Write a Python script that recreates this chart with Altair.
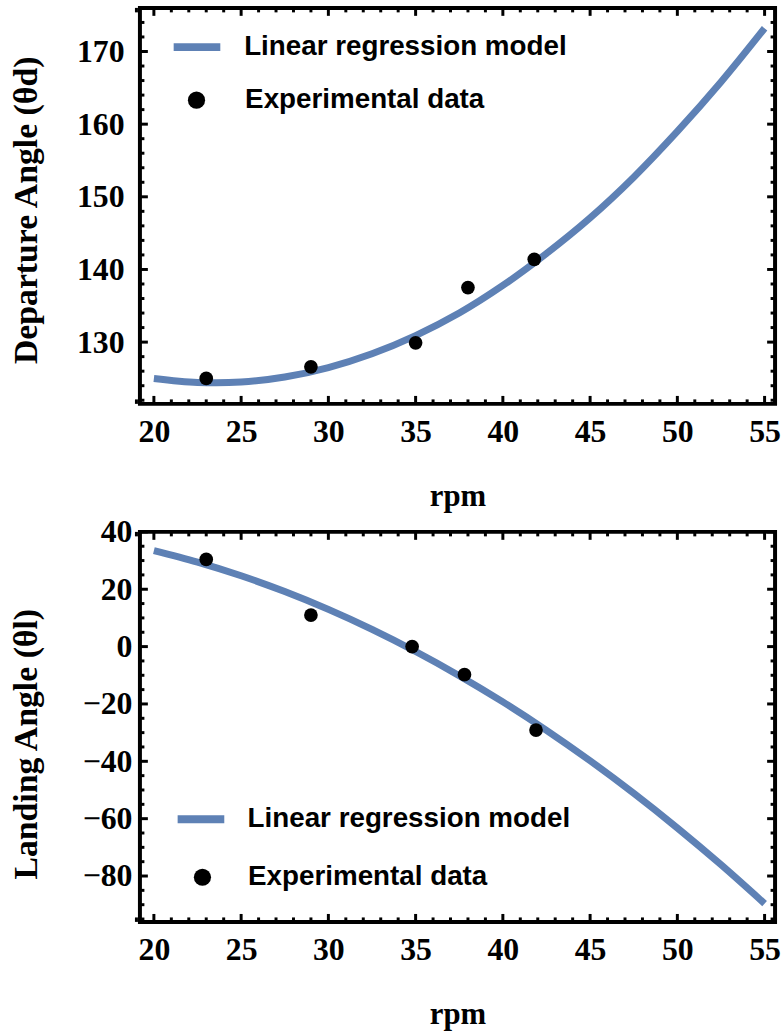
import altair as alt
import pandas as pd

# ---------------- data ----------------
rpm_curve = [20, 22.5, 25, 27.5, 30, 32.5, 35, 37.5, 40, 42.5, 45, 47.5, 50, 52.5, 55]
departure_curve = [125.0, 124.45, 124.5, 125.2, 126.5, 128.4, 130.9, 134.0, 137.8,
                   142.2, 147.1, 152.7, 159.0, 165.8, 173.2]
landing_curve = [33.5, 29.46, 24.69, 19.19, 12.96, 5.99, -1.71, -10.13, -19.29,
                 -29.18, -39.81, -51.16, -63.25, -76.06, -89.62]

rpm_dep_pts = [23, 29, 35, 38, 41.8]
departure_pts = [125.0, 126.6, 129.9, 137.5, 141.4]
rpm_land_pts = [23, 29, 34.8, 37.8, 41.9]
landing_pts = [30.4, 11.0, 0.0, -9.8, -29.1]

series_names = ["Linear regression model", "Experimental data"]

x_major = [20, 25, 30, 35, 40, 45, 50, 55]
x_minor = [v for v in range(19, 56) if v not in x_major]
dep_major = [130, 140, 150, 160, 170]
dep_minor = [v for v in range(122, 177, 2) if v not in dep_major]
land_major = [-80, -60, -40, -20, 0, 20, 40]
land_minor = [v for v in range(-95, 41, 5) if v not in land_major]

LINE_COLOR = "#5E81B5"
SERIF = "Liberation Serif"
SANS = "Liberation Sans"
MAJ_LEN, MIN_LEN = 8, 4.5


def panel(curve_x, curve_y, pts_x, pts_y, y_title, y_domain, y_major, y_minor,
          W, H, label_pad_y, title_dy, leg):
    xs = alt.Scale(domain=[19.2, 55.6], nice=False, zero=False)
    ys = alt.Scale(domain=y_domain, nice=False, zero=False)

    line_df = pd.DataFrame({"rpm": curve_x, "angle": curve_y, "series": series_names[0]})
    pts_df = pd.DataFrame({"rpm": pts_x, "angle": pts_y, "series": series_names[1]})

    leg_common = dict(title=None, orient="none", labelFont=SANS, labelFontSize=28,
                      labelFontWeight="bold", labelColor="black", padding=0,
                      labelLimit=600)

    stroke = alt.Stroke(
        "series:N",
        scale=alt.Scale(domain=[series_names[0]], range=[LINE_COLOR]),
        legend=alt.Legend(legendX=leg["lx"], legendY=leg["ly"], symbolType="stroke",
                          symbolSize=2209, symbolStrokeWidth=8, labelOffset=leg["lo"],
                          **leg_common),
    )
    fill = alt.Fill(
        "series:N",
        scale=alt.Scale(domain=[series_names[1]], range=["#000000"]),
        legend=alt.Legend(legendX=leg["cx"], legendY=leg["cy"], symbolType="circle",
                          symbolSize=300, symbolStrokeWidth=0, labelOffset=leg["co"],
                          symbolOpacity=1, **leg_common),
    )

    x_axis = alt.Axis(
        values=x_major, title="rpm", grid=False, domain=False, ticks=False, tickSize=0,
        labelFont=SERIF, labelFontSize=32, labelFontWeight="bold", labelColor="black",
        labelBaseline="alphabetic", labelPadding=38, labelFlush=False, labelOverlap=False,
        titleFont=SERIF, titleFontSize=31, titleFontWeight="bold", titleColor="black",
        titleX=W / 2, titleY=102, titleBaseline="alphabetic", titleAlign="center",
    )
    y_axis = alt.Axis(
        values=y_major, title=y_title, grid=False, domain=False, ticks=False, tickSize=0,
        labelFont=SERIF, labelFontSize=32, labelFontWeight="bold", labelColor="black",
        labelPadding=label_pad_y, labelOverlap=False, labelFlush=False,
        titleFont=SERIF, titleFontSize=34, titleFontWeight="bold", titleColor="black",
        titleX=-114, titleY=H / 2 + title_dy, titleAngle=270, titleBaseline="middle",
        titleAlign="center",
    )

    line = alt.Chart(line_df).mark_line(strokeWidth=7, interpolate="catmull-rom").encode(
        x=alt.X("rpm:Q", scale=xs, axis=x_axis),
        y=alt.Y("angle:Q", scale=ys, axis=y_axis),
        stroke=stroke,
    )
    pts = alt.Chart(pts_df).mark_point(filled=True, size=190, opacity=1).encode(
        x=alt.X("rpm:Q", scale=xs, axis=x_axis),
        y=alt.Y("angle:Q", scale=ys, axis=y_axis),
        fill=fill,
    )

    xmaj = pd.DataFrame({"t": x_major})
    xmin = pd.DataFrame({"t": x_minor})
    ymaj = pd.DataFrame({"t": y_major})
    ymin = pd.DataFrame({"t": y_minor})

    def xrule(df, y0, y1):
        return alt.Chart(df).mark_rule(strokeWidth=3, color="black").encode(
            x=alt.X("t:Q", scale=xs, axis=x_axis),
            y=alt.value(y0), y2=alt.value(y1),
        )

    def yrule(df, x0, x1):
        return alt.Chart(df).mark_rule(strokeWidth=3, color="black").encode(
            y=alt.Y("t:Q", scale=ys, axis=y_axis),
            x=alt.value(x0), x2=alt.value(x1),
        )

    ticks = [
        xrule(xmaj, H, H - MAJ_LEN), xrule(xmin, H, H - MIN_LEN),
        xrule(xmaj, 0, MAJ_LEN), xrule(xmin, 0, MIN_LEN),
        yrule(ymaj, 0, MAJ_LEN), yrule(ymin, 0, MIN_LEN),
        yrule(ymaj, W, W - MAJ_LEN), yrule(ymin, W, W - MIN_LEN),
    ]
    return alt.layer(line, pts, *ticks).properties(width=W, height=H)


top = panel(rpm_curve, departure_curve, rpm_dep_pts, departure_pts,
            "Departure Angle (θd)", [121.5, 176.0], dep_major, dep_minor,
            640, 399, 16, 4,
            dict(lx=30, ly=12, lo=20, cx=43, cy=79, co=35))
bottom = panel(rpm_curve, landing_curve, rpm_land_pts, landing_pts,
               "Landing Angle (θl)", [-96.0, 40.0], land_major, land_minor,
               640, 393, 8, 17,
               dict(lx=34, ly=262, lo=19.5, cx=49, cy=334, co=32))

chart = alt.vconcat(top, bottom, spacing=129, bounds="flush").resolve_scale(
    stroke="independent", fill="independent", x="independent", y="independent"
).configure_view(stroke="black", strokeWidth=4).properties(
    padding={"left": 8, "top": 0, "right": 0, "bottom": 0},
    background="white",
)

chart.save("out.html", embed_options={"renderer": "svg", "actions": False})
